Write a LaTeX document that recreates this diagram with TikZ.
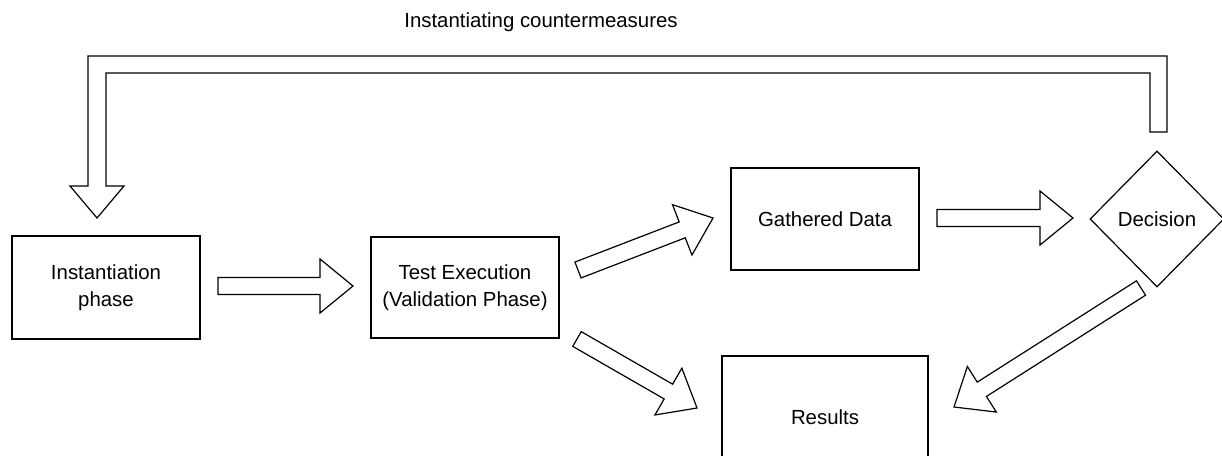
\documentclass[tikz,border=0pt]{standalone}
\usepackage{fontspec}
\setmainfont{Liberation Sans}
\usetikzlibrary{calc,shapes.geometric}

\tikzset{
  every node/.style={font=\fontsize{20.4}{27}\selectfont},
  outline/.style={draw=black, line width=1.2pt, fill=white},
  stage/.style={outline, rectangle, align=center, inner sep=0pt},
  choice/.style={outline, diamond, inner sep=0pt},
  blockline/.style={outline, line join=miter},
}

% hollow block arrow from #1 (tail centre) to #2 (tip)
\newcommand{\blockarrow}[2]{%
  \coordinate (ba-h) at ($(#2)!33pt!(#1)$);
  \draw[blockline]
    ($(#1)!8.5pt!90:(#2)$) -- ($(ba-h)!8.5pt!90:(#2)$)
    -- ($(ba-h)!27pt!90:(#2)$) -- (#2)
    -- ($(ba-h)!27pt!-90:(#2)$) -- ($(ba-h)!8.5pt!-90:(#2)$)
    -- ($(#1)!8.5pt!-90:(#2)$) -- cycle;
}

\begin{document}
\begin{tikzpicture}[x=1pt, y=-1pt]
  \useasboundingbox (0,0) rectangle (1222,455);

  % stages
  \node[stage, minimum width=188pt, minimum height=103pt] (inst) at (106,287.5) {Instantiation\\phase};
  \node[stage, minimum width=188pt, minimum height=101pt] (test) at (465,287.5) {Test Execution\\(Validation Phase)};
  \node[stage, minimum width=188pt, minimum height=102pt] (data) at (825,219) {Gathered Data};
  \node[stage, minimum width=206pt, minimum height=122pt] (results) at (825,417) {Results};
  \node[choice, minimum width=134pt, minimum height=136pt] (decision) at (1157,219) {Decision};

  % arrow end points
  \coordinate (a1s) at (218,286);  \coordinate (a1e) at (353,286);
  \coordinate (a2s) at (578,270);  \coordinate (a2e) at (713,218);
  \coordinate (a3s) at (577,339);  \coordinate (a3e) at (697,408);
  \coordinate (a4s) at (937,218);  \coordinate (a4e) at (1073,218);
  \coordinate (a5s) at (1141,288); \coordinate (a5e) at (954,407);

  \blockarrow{a1s}{a1e}
  \blockarrow{a2s}{a2e}
  \blockarrow{a3s}{a3e}
  \blockarrow{a4s}{a4e}
  \blockarrow{a5s}{a5e}

  % feedback loop from the decision back to instantiation
  \coordinate (fbTail) at (1158.5,132);
  \coordinate (fbTip) at (97,218);
  \draw[blockline]
    (1150,132) -- (1167,132) -- (1167,56) -- (88,56) -- (88,186) -- (70,186)
    -- (fbTip) -- (124,186) -- (106,186) -- (106,73) -- (1150,73) -- cycle;

  \node (fbLabel) at (541,22) {Instantiating countermeasures};
\end{tikzpicture}
\end{document}
